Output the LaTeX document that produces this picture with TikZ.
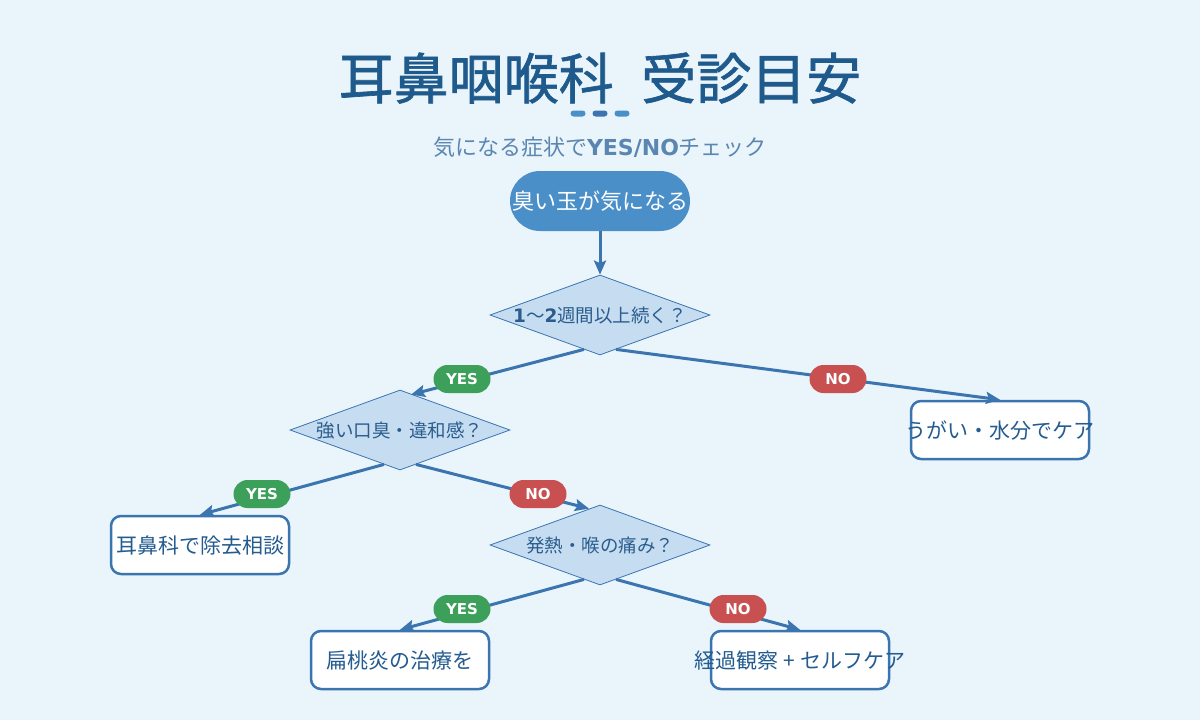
\documentclass[tikz,border=0pt]{standalone}
\usepackage{fontspec}
\setmainfont{Noto Sans CJK JP}
\newfontfamily\dv{DejaVu Sans}
\newfontfamily\titlefont{Noto Sans CJK JP}[FakeBold=1.2]
\usetikzlibrary{shapes.geometric,arrows.meta,calc}
\definecolor{bg}{HTML}{EAF4FB}
\definecolor{titlec}{HTML}{1F5A8C}
\definecolor{subc}{HTML}{5A86B2}
\definecolor{startc}{HTML}{4A8FC8}
\definecolor{dotmid}{HTML}{3A75B0}
\definecolor{edgec}{HTML}{3A75B0}
\definecolor{diafill}{HTML}{C6DCF0}
\definecolor{yesc}{HTML}{3DA05A}
\definecolor{noc}{HTML}{C85050}
\definecolor{txtc}{HTML}{245C8F}
\definecolor{diatxt}{HTML}{2A5D8E}
\tikzset{
  startbox/.style={rectangle, rounded corners=30pt, minimum width=180pt, minimum height=60pt, inner sep=0pt, fill=startc},
  dia/.style={diamond, minimum width=220pt, minimum height=80pt, inner sep=0pt, fill=diafill, draw=edgec, line width=0.8pt},
  endbox/.style={rectangle, rounded corners=10pt, minimum width=178pt, minimum height=58pt, inner sep=0pt, fill=white, draw=edgec, line width=2.5pt},
  pill/.style={rectangle, rounded corners=14pt, minimum width=57pt, minimum height=28pt, inner sep=0pt, text=white, font=\dv\bfseries\fontsize{15}{18}\selectfont},
  yespill/.style={pill, fill=yesc},
  nopill/.style={pill, fill=noc},
  conn/.style={draw=edgec, line width=3pt, -{Stealth[length=14pt, width=12pt, inset=2.5pt]}},
  basetxt/.style={anchor=base, inner sep=0pt},
  diatext/.style={basetxt, text=diatxt, font=\fontsize{18.5}{22}\selectfont},
  boxtext/.style={basetxt, text=txtc, font=\fontsize{21}{25}\selectfont},
  dotbar/.style={rectangle, rounded corners=3pt, minimum width=15pt, minimum height=6pt, inner sep=0pt}
}
\begin{document}
\begin{tikzpicture}[x=1pt, y=-1pt]
\fill[bg] (0,0) rectangle (1200,720);
\useasboundingbox (0,0) rectangle (1200,720);

% title
\node[basetxt, text=titlec, font=\titlefont\fontsize{55}{60}\selectfont] (title) at (600,99) {耳鼻咽喉科\hspace{0.5em}受診目安};
\node[dotbar, fill=startc] (dot1) at (578,113.5) {};
\node[dotbar, fill=dotmid] (dot2) at (600,113.5) {};
\node[dotbar, fill=startc] (dot3) at (622,113.5) {};
\node[basetxt, text=subc, font=\fontsize{22}{26}\selectfont] (sub) at (600,155) {気になる症状で{\dv\bfseries YES/NO}チェック};

% nodes
\node[startbox] (s) at (600,201) {};
\node[basetxt, text=white, font=\fontsize{22}{26}\selectfont] (stxt) at ($(s.center)+(0,8.5)$) {臭い玉が気になる};

\node[dia] (d1) at (600,315) {};
\node[diatext] (d1t) at ($(d1.center)+(0,7)$) {{\dv\bfseries 1}〜{\dv\bfseries 2}週間以上続く？};

\node[dia] (d2) at (400,430) {};
\node[diatext] (d2t) at ($(d2.center)+(0,7)$) {強い口臭・違和感？};

\node[dia] (d3) at (600,545) {};
\node[diatext] (d3t) at ($(d3.center)+(0,7)$) {発熱・喉の痛み？};

\node[endbox] (b1) at (1000,430) {};
\node[boxtext] (b1t) at ($(b1.center)+(0,8)$) {うがい・水分でケア};

\node[endbox] (b2) at (200,545) {};
\node[boxtext] (b2t) at ($(b2.center)+(0,8)$) {耳鼻科で除去相談};

\node[endbox] (b3) at (400,660) {};
\node[boxtext] (b3t) at ($(b3.center)+(0,8)$) {扁桃炎の治療を};

\node[endbox] (b4) at (800,660) {};
\node[boxtext] (b4t) at ($(b4.center)+(0,8)$) {経過観察 + セルフケア};

% connectors
\draw[conn] (s.south) -- (d1.north);
\draw[conn] ($(d1.south)+(-16,-6)$) -- ($(d2.north)+(11,5)$);
\draw[conn] ($(d1.south)+(16,-6)$) -- (b1.north);
\draw[conn] ($(d2.south)+(-16,-6)$) -- (b2.north);
\draw[conn] ($(d2.south)+(16,-6)$) -- ($(d3.north)+(-11,4)$);
\draw[conn] ($(d3.south)+(-16,-6)$) -- (b3.north);
\draw[conn] ($(d3.south)+(16,-6)$) -- (b4.north);

% labels
\node[yespill] (l1) at (462,379) {YES};
\node[nopill] (l2) at (838,379) {NO};
\node[yespill] (l3) at (262,494) {YES};
\node[nopill] (l4) at (538,494) {NO};
\node[yespill] (l5) at (462,609) {YES};
\node[nopill] (l6) at (738,609) {NO};
\end{tikzpicture}
\end{document}
